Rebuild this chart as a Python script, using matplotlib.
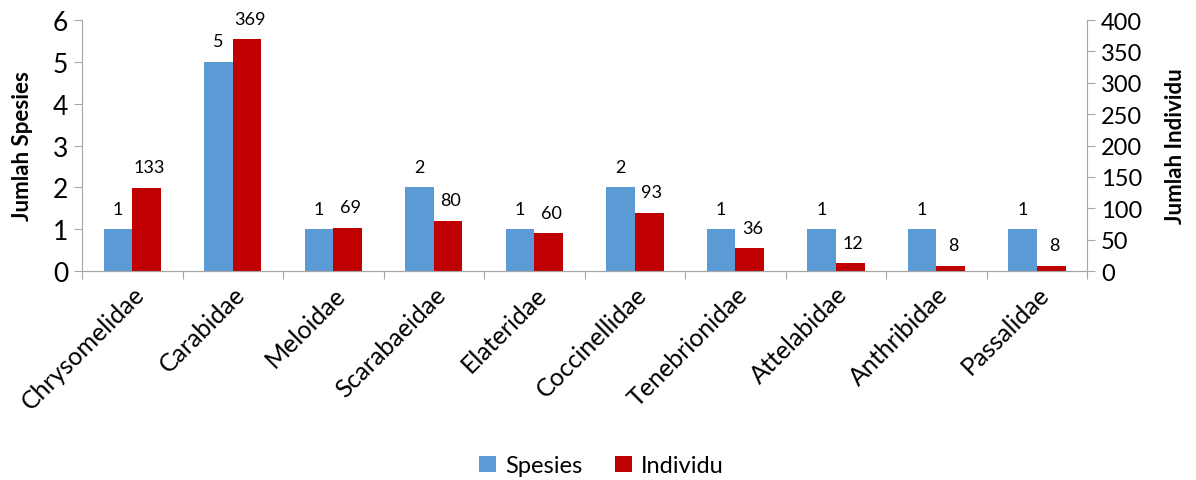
import matplotlib
matplotlib.use("Agg")
import matplotlib.pyplot as plt
import numpy as np

plt.rcParams['font.family'] = ['Lato', 'DejaVu Sans']

famili = ["Chrysomelidae", "Carabidae", "Meloidae", "Scarabaeidae", "Elateridae",
          "Coccinellidae", "Tenebrionidae", "Attelabidae", "Anthribidae", "Passalidae"]
spesies = [1, 5, 1, 2, 1, 2, 1, 1, 1, 1]
individu = [133, 369, 69, 80, 60, 93, 36, 12, 8, 8]

biru = "#5B9BD5"
merah = "#C00000"
abu = "#A6A6A6"

fig = plt.figure(figsize=(11.96, 4.81), dpi=100)
ax = fig.add_axes([0.0686, 0.4345, 0.8404, 0.5218])
ax2 = ax.twinx()

x = np.arange(len(famili))
lebar = 0.285

b1 = ax.bar(x - lebar / 2, spesies, lebar, color=biru, label="Spesies")
b2 = ax2.bar(x + lebar / 2, individu, lebar, color=merah, label="Individu")

ax.set_xlim(-0.5, len(famili) - 0.5)
ax.set_ylim(0, 6)
ax2.set_ylim(0, 400)
ax.set_yticks(range(0, 7))
ax2.set_yticks(range(0, 401, 50))

# label nilai di atas batang
for rect, v in zip(b1, spesies):
    ax.annotate(str(v), (rect.get_x() + rect.get_width() / 2, v),
                xytext=(0, 9), textcoords="offset points",
                ha="center", va="bottom", fontsize=13)
for rect, v in zip(b2, individu):
    ax2.annotate(str(v), (rect.get_x() + rect.get_width() / 2, v),
                 xytext=(2, 9), textcoords="offset points",
                 ha="center", va="bottom", fontsize=13)

# sumbu x: tick di batas kategori, label di tengah
ax.set_xticks(np.arange(-0.5, len(famili), 1))
ax.set_xticklabels([])
ax.set_xticks(x, minor=True)
ax.set_xticklabels(famili, minor=True, rotation=45, ha="right",
                   rotation_mode="anchor", fontsize=18)
ax.tick_params(axis="x", which="minor", length=0, pad=8)
ax.tick_params(axis="x", which="major", length=6, color=abu, direction="out")

ax.tick_params(axis="y", length=6, color=abu, labelsize=19, pad=4)
ax2.tick_params(axis="y", length=6, color=abu, labelsize=17, pad=4)

for a in (ax, ax2):
    a.spines["top"].set_visible(False)
    for s in ("left", "right", "bottom"):
        a.spines[s].set_color(abu)
ax.spines["right"].set_visible(False)
ax2.spines["left"].set_visible(False)

ax.set_ylabel("Jumlah Spesies", fontsize=16, fontweight="bold", labelpad=14)
ax2.set_ylabel("Jumlah Individu", fontsize=16, fontweight="bold", labelpad=16)

fig.legend(handles=[b1, b2], loc="center", bbox_to_anchor=(0.503, 0.03),
           ncol=2, frameon=False, fontsize=17, handlelength=0.7,
           handleheight=0.7, handletextpad=0.4, columnspacing=1.4)

fig.savefig("out.png", dpi=100)
